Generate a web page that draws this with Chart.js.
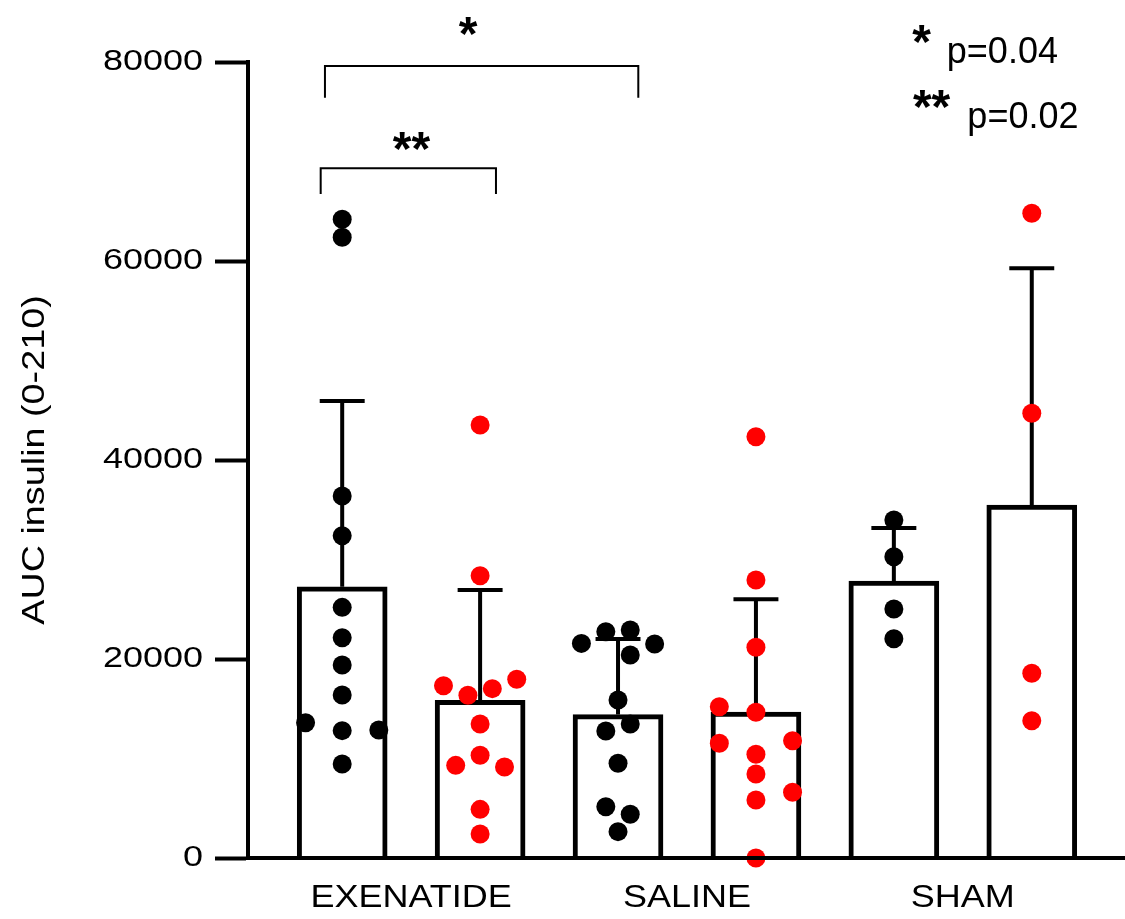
<!DOCTYPE html>
<html><head><meta charset="utf-8">
<script src="https://cdn.jsdelivr.net/npm/chart.js@4.4.1/dist/chart.umd.min.js"></script>
<style>html,body{margin:0;padding:0;background:#fff;}#wrap{width:1125px;height:919px;}</style>
</head><body>
<div id="wrap"><canvas id="c" width="1125" height="919"></canvas></div>
<script>
// ---------- data ----------
const groupLabels = ['EXENATIDE', 'SALINE', 'SHAM'];
const yTicks = [0, 20000, 40000, 60000, 80000];
const yTitle = 'AUC insulin (0-210)';

const exenatideBlack = [64190, 62380, 36380, 32390, 25190, 22140, 19400, 16380, 13600, 12860, 12800, 9450];
const exenatideRed   = [43520, 28370, 17960, 17320, 17020, 16350, 13470, 10320, 9310, 9150, 4890, 2410];
const salineBlack    = [22910, 22740, 21570, 21510, 20400, 15880, 13470, 12760, 9520, 5160, 4390, 2650];
const salineRed      = [42340, 27940, 21180, 15210, 14640, 11790, 11530, 10420, 8440, 6600, 5830, 0];
const shamBlack      = [33970, 30280, 25020, 22040];
const shamRed        = [64790, 44690, 18560, 13800];

// scatter column of each dot (in dot widths)
const exenatideBlackCol = [0, 0, 0, 0, 0, 0, 0, 0, -1.5, 1.5, 0, 0];
const exenatideRedCol   = [0, 0, 1.5, -1.5, 0.5, -0.5, 0, 0, -1, 1, 0, 0];
const salineBlackCol    = [0.5, -0.5, -1.5, 1.5, 0.5, 0, 0.5, -0.5, 0, -0.5, 0.5, 0];
const salineRedCol      = [0, 0, 0, -1.5, 0, 1.5, -1.5, 0, 0, 1.5, 0, 0];
const shamBlackCol      = [0, 0, 0, 0];
const shamRedCol        = [0, 0, 0, 0];

const sigLabels = ['*', '**'];
const pLabels = ['p=0.04', 'p=0.02'];

// ---------- derived ----------
const groups = [exenatideBlack, exenatideRed, salineBlack, salineRed, shamBlack, shamRed];
const groupCols = [exenatideBlackCol, exenatideRedCol, salineBlackCol, salineRedCol, shamBlackCol, shamRedCol];
const dotColors = ['#000000', '#ff0000', '#000000', '#ff0000', '#000000', '#ff0000'];
const mean = a => a.reduce((s, v) => s + v, 0) / a.length;
const sd = a => { const m = mean(a); return Math.sqrt(a.reduce((s, v) => s + (v - m) * (v - m), 0) / (a.length - 1)); };
const means = groups.map(mean);
const sds = groups.map(sd);

const FONT = "'Liberation Sans', Arial, Helvetica, sans-serif";
const COL_STEP = 0.177;   // one dot width in x units
const CAP = 0.163;        // half width of error cap in x units

const barData = means.map((m, i) => ({x: i, y: m}));
const errData = [];
means.forEach((m, i) => {
  const t = m + sds[i];
  errData.push({x: i, y: m}, {x: i, y: t}, {x: i, y: null}, {x: i - CAP, y: t}, {x: i + CAP, y: t}, {x: i, y: null});
});
const bracketData = [
  {x: -0.156, y: 66730}, {x: -0.156, y: 69315}, {x: 1.115, y: 69315}, {x: 1.115, y: 66730}, {x: 0, y: null},
  {x: -0.125, y: 76410}, {x: -0.125, y: 79600}, {x: 2.147, y: 79600}, {x: 2.147, y: 76410}
];

const dotSets = groups.map((vals, g) => ({
  type: 'scatter',
  data: vals.map((v, k) => ({x: g + groupCols[g][k] * COL_STEP, y: v})),
  backgroundColor: dotColors[g],
  borderWidth: 0,
  pointRadius: 9.5,
  pointHoverRadius: 9.5,
  clip: false,
  order: 0
}));

function drawInk(ctx, text, cx, cy) {
  ctx.textAlign = 'left'; ctx.textBaseline = 'alphabetic';
  const m = ctx.measureText(text);
  const x = cx - (m.actualBoundingBoxRight - m.actualBoundingBoxLeft) / 2;
  const y = cy + (m.actualBoundingBoxAscent - m.actualBoundingBoxDescent) / 2;
  ctx.fillText(text, x, y);
}

// horizontally widen tick label glyphs (keeps each label anchored at its own position)
function widenLabels(scale, sx) {
  if (scale.__widened) return;
  const origDraw = scale.drawLabels;
  const origItems = scale.getLabelItems;
  scale.drawLabels = function (area) {
    const c = this.ctx;
    this.getLabelItems = function (ca) {
      return origItems.call(this, ca).map(it => ({
        ...it,
        options: {...it.options, translation: [it.options.translation[0] / sx, it.options.translation[1]]}
      }));
    };
    c.save();
    c.scale(sx, 1);
    origDraw.call(this, area);
    c.restore();
    this.getLabelItems = origItems;
  };
  scale.__widened = true;
}
// stretch the rotated axis title along its length
function stretchTitle(scale, sy) {
  if (scale.__stretched) return;
  const orig = scale.drawTitle;
  scale.drawTitle = function () {
    const c = this.ctx, cy = (this.top + this.bottom) / 2;
    c.save();
    c.translate(0, cy); c.scale(1, sy); c.translate(0, -cy);
    orig.call(this);
    c.restore();
  };
  scale.__stretched = true;
}

const textShapePlugin = {
  id: 'textShape',
  beforeDraw(chart) {
    widenLabels(chart.scales.y, 1.24);
    widenLabels(chart.scales.x, 1.125);
    stretchTitle(chart.scales.y, 1.18);
  }
};

const annotPlugin = {
  id: 'annot',
  afterDraw(chart) {
    const ctx = chart.ctx, xs = chart.scales.x, ys = chart.scales.y;
    ctx.save();
    ctx.fillStyle = '#000';
    ctx.font = 'bold 48px ' + FONT;
    drawInk(ctx, sigLabels[0], xs.getPixelForValue(0.914), ys.getPixelForValue(83600));
    drawInk(ctx, sigLabels[1], xs.getPixelForValue(0.504), ys.getPixelForValue(72080));
    drawInk(ctx, sigLabels[0], xs.getPixelForValue(4.202), ys.getPixelForValue(82810));
    drawInk(ctx, sigLabels[1], xs.getPixelForValue(4.275), ys.getPixelForValue(76260));
    ctx.font = '36px ' + FONT;
    ctx.textAlign = 'left'; ctx.textBaseline = 'alphabetic';
    ctx.fillText(pLabels[0], xs.getPixelForValue(4.384), ys.getPixelForValue(79870));
    ctx.fillText(pLabels[1], xs.getPixelForValue(4.533), ys.getPixelForValue(73330));
    ctx.restore();
  }
};

new Chart(document.getElementById('c'), {
  type: 'bar',
  data: {
    datasets: [
      ...dotSets,
      {type: 'line', data: errData, borderColor: '#000', borderWidth: 4, pointRadius: 0, spanGaps: false, borderCapStyle: 'butt', tension: 0, order: 1},
      {type: 'line', data: bracketData, borderColor: '#000', borderWidth: 2, pointRadius: 0, spanGaps: false, tension: 0, clip: false, order: 1},
      {type: 'bar', data: barData, backgroundColor: '#ffffff', borderColor: '#000', borderWidth: 5, barThickness: 90, order: 2}
    ]
  },
  options: {
    responsive: false,
    animation: false,
    devicePixelRatio: 1,
    layout: {autoPadding: false, padding: {top: 62, right: 0, bottom: 0, left: 0}},
    plugins: {legend: {display: false}, tooltip: {enabled: false}},
    events: [],
    scales: {
      x: {
        type: 'linear', min: -0.683, max: 5.676, offset: false,
        grid: {display: false, drawTicks: false},
        border: {display: true, width: 4, color: '#000', z: 1},
        afterBuildTicks: s => { s.ticks = groupLabels.map((_, i) => ({value: i * 2 + 0.5})); },
        ticks: {
          autoSkip: false, maxRotation: 0, color: '#000', padding: 21,
          font: {family: FONT, size: 32},
          callback: v => groupLabels[Math.round((v - 0.5) / 2)]
        },
        afterFit: s => { s.height = 61; }
      },
      y: {
        type: 'linear', min: 0, max: 80000,
        afterBuildTicks: s => { s.ticks = yTicks.map(v => ({value: v})); },
        grid: {drawOnChartArea: false, drawTicks: true, tickLength: 33, tickWidth: 4, tickColor: '#000'},
        border: {display: true, width: 4, color: '#000'},
        ticks: {color: '#000', padding: 12, font: {family: FONT, size: 29}, callback: v => String(v)},
        title: {display: true, text: yTitle, color: '#000', font: {family: FONT, size: 32}, padding: {top: 16, bottom: 0}},
        afterFit: s => { s.width = 248; }
      }
    }
  },
  plugins: [textShapePlugin, annotPlugin]
});
</script>
</body></html>
